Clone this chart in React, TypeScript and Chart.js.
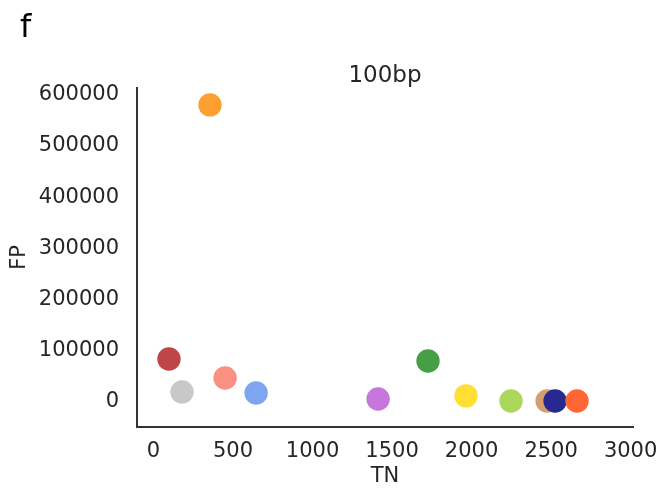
import React, { useEffect, useRef } from "react";
import { Chart, registerables } from "chart.js";

Chart.register(...registerables);

const tnValues = [355, 97, 179, 450, 645, 1412, 1726, 1965, 2248, 2475, 2525, 2663];
const fpValues = [580000, 84000, 19500, 47000, 17500, 6000, 80000, 12000, 2000, 2000, 2000, 2000];
const pointColors = [
  "#fe9f32", "#c04546", "#c8c8c8", "#fa9081", "#7ea6f0", "#c676dc",
  "#469f46", "#ffdf33", "#abd75a", "#d59e6c", "#262a90", "#ff6633",
];
const xTicks = [0, 500, 1000, 1500, 2000, 2500, 3000];
const yTicks = [0, 100000, 200000, 300000, 400000, 500000, 600000];
const chartTitle = "100bp";
const panelLetter = "f";
const xLabel = "TN";
const yLabel = "FP";

const FONT = "'DejaVu Sans', sans-serif";
const TXT = "#262626";

export default function App() {
  const ref = useRef<HTMLCanvasElement | null>(null);

  useEffect(() => {
    if (!ref.current) return;
    const textPlugin = {
      id: "textPlugin",
      afterDraw(chart: any) {
        const ctx = chart.ctx;
        const area = chart.chartArea;
        ctx.save();
        ctx.fillStyle = "#000000";
        ctx.textAlign = "left";
        ctx.textBaseline = "alphabetic";
        ctx.font = `32px ${FONT}`;
        ctx.fillText(panelLetter, 20, 37);
        ctx.fillStyle = TXT;
        ctx.textAlign = "center";
        ctx.font = `23px ${FONT}`;
        ctx.fillText(chartTitle, (area.left + area.right) / 2, 82);
        ctx.restore();
      },
    };
    const chart = new Chart(ref.current, {
      type: "scatter",
      data: {
        datasets: [
          {
            data: tnValues.map((x, i) => ({ x, y: fpValues[i] })),
            pointBackgroundColor: pointColors,
            pointBorderWidth: 0,
            pointRadius: 11.7,
            pointHoverRadius: 11.7,
          },
        ],
      },
      options: {
        responsive: false,
        animation: false,
        events: [],
        layout: { padding: { top: 88, right: 26, left: 0, bottom: 0 } },
        plugins: { legend: { display: false }, tooltip: { enabled: false }, title: { display: false } },
        scales: {
          x: {
            type: "linear",
            min: -104,
            max: 3015,
            grid: { display: false, drawTicks: false },
            border: { display: true, color: "#333333", width: 2 },
            ticks: {
              color: TXT, font: { family: FONT, size: 21 }, padding: 12, maxRotation: 0,
              callback: (v: any) => String(v),
            },
            afterBuildTicks: (s: any) => { s.ticks = xTicks.map((v) => ({ value: v })); },
            afterFit: (s: any) => { s.height = 64; s.paddingLeft = 0; s.paddingRight = 0; },
            title: { display: true, text: xLabel, color: TXT, font: { family: FONT, size: 21 }, padding: { top: 0, bottom: 2 } },
          },
          y: {
            type: "linear",
            min: -48800,
            max: 613000,
            grid: { display: false, drawTicks: false },
            border: { display: true, color: "#333333", width: 2 },
            ticks: {
              color: TXT, font: { family: FONT, size: 21 }, padding: 18,
              callback: (v: any) => String(v),
            },
            afterBuildTicks: (s: any) => { s.ticks = yTicks.map((v) => ({ value: v })); },
            afterFit: (s: any) => { s.width = 137; s.paddingTop = 0; s.paddingBottom = 0; },
            title: { display: true, text: yLabel, color: TXT, font: { family: FONT, size: 21 }, padding: { top: 7, bottom: 0 } },
          },
        },
      },
      plugins: [textPlugin],
    } as any);
    return () => chart.destroy();
  }, []);

  return (
    <div style={{ position: "absolute", left: 0, top: 0, width: 659, height: 491, background: "#fff" }}>
      <canvas ref={ref} width={659} height={491} style={{ display: "block", width: 659, height: 491 }} />
    </div>
  );
}
